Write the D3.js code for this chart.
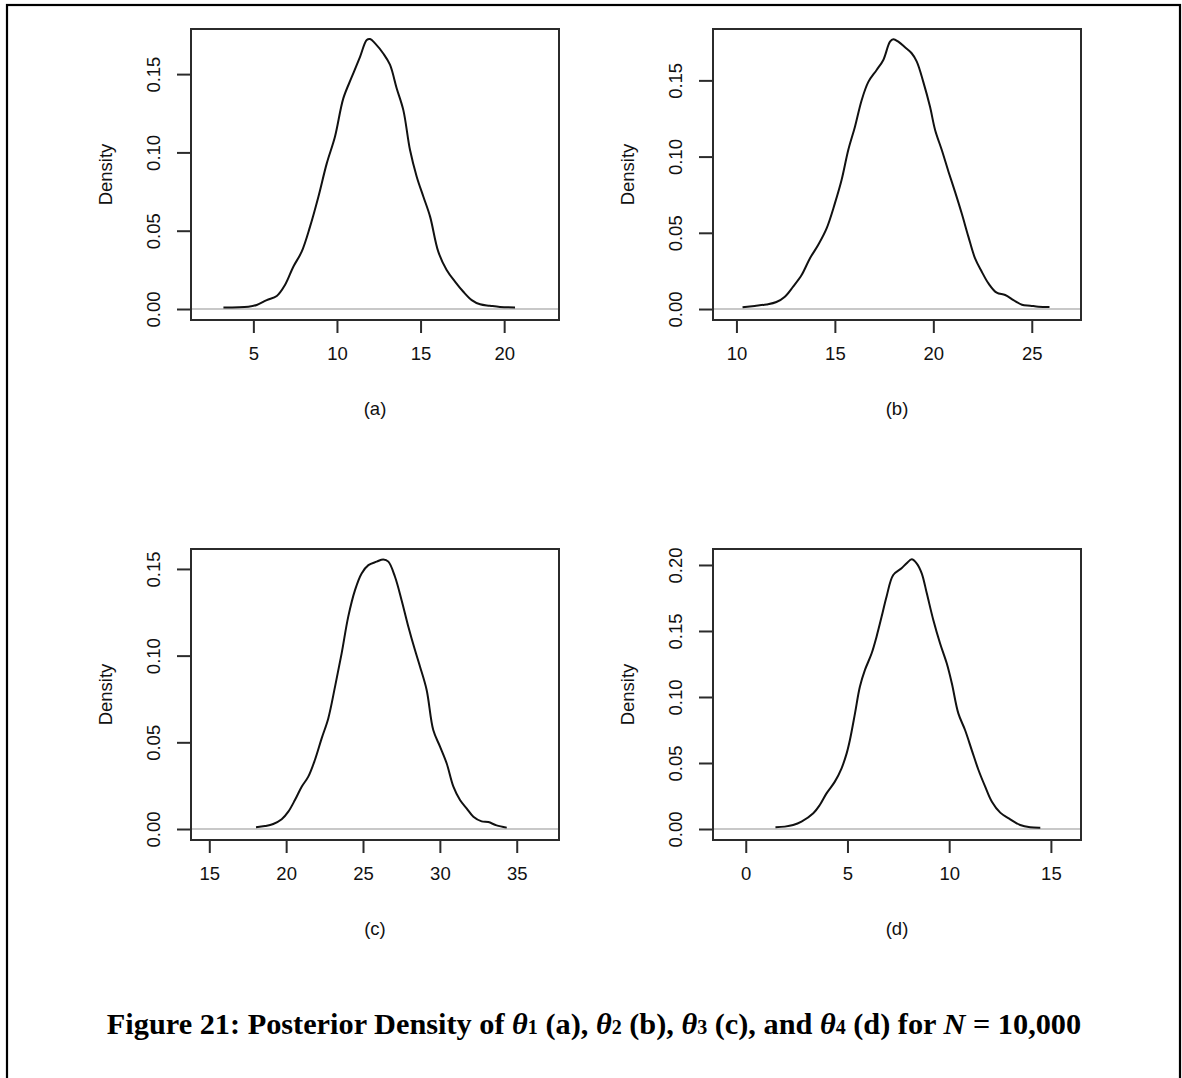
<!DOCTYPE html>
<html>
<head>
<meta charset="utf-8">
<script src="https://cdn.jsdelivr.net/npm/d3@7"></script>
<style>
  html, body { margin: 0; padding: 0; background: #fff; }
  svg { display: block; }
</style>
</head>
<body>
<svg id="chart" width="1182" height="1078"></svg>
<script>
// ---------- DATA ----------
const panelLabels = ["(a)", "(b)", "(c)", "(d)"];

// Panel (a): posterior density of theta1
const xA = [3.21, 4.70, 5.2, 5.8, 6.4, 6.89, 7.39, 7.89, 8.39, 8.89, 9.39, 9.88, 10.38, 10.88, 11.38, 11.78, 11.98, 12.28, 12.78, 13.17, 13.57, 13.97, 14.37, 14.77, 15.17, 15.57, 16.06, 16.56, 17.06, 17.56, 18.06, 18.56, 19.15, 19.75, 20.65];
const yA = [0.001, 0.0015, 0.0026, 0.0057, 0.0083, 0.0153, 0.027, 0.0366, 0.0526, 0.0717, 0.093, 0.110, 0.1345, 0.148, 0.161, 0.1718, 0.1724, 0.1696, 0.163, 0.156, 0.141, 0.127, 0.1015, 0.0845, 0.0717, 0.059, 0.0366, 0.0249, 0.0175, 0.011, 0.0057, 0.003, 0.0021, 0.0013, 0.001];

// Panel (b): theta2
const xB = [10.31, 10.93, 11.53, 12.03, 12.46, 12.88, 13.31, 13.73, 14.15, 14.58, 15.0, 15.34, 15.68, 16.02, 16.36, 16.70, 17.12, 17.46, 17.80, 17.97, 18.22, 18.56, 18.90, 19.16, 19.49, 19.83, 20.09, 20.43, 20.77, 21.1, 21.44, 21.78, 22.12, 22.46, 22.80, 23.22, 23.65, 24.07, 24.5, 24.92, 25.34, 25.9];
const yB = [0.0011, 0.002, 0.003, 0.0046, 0.0081, 0.0147, 0.0223, 0.0332, 0.042, 0.0529, 0.0693, 0.0846, 0.1043, 0.1196, 0.137, 0.149, 0.1568, 0.1634, 0.1754, 0.177, 0.1754, 0.1717, 0.1678, 0.1623, 0.149, 0.1328, 0.1175, 0.1043, 0.0901, 0.077, 0.0628, 0.0475, 0.0332, 0.0245, 0.0168, 0.0107, 0.0092, 0.0059, 0.0028, 0.0022, 0.0015, 0.0013];

// Panel (c): theta3
const xC = [18.04, 18.62, 19.16, 19.71, 20.14, 20.57, 21.01, 21.44, 21.87, 22.31, 22.74, 23.18, 23.61, 24.04, 24.48, 24.91, 25.35, 25.89, 26.32, 26.65, 27.08, 27.51, 27.95, 28.38, 28.71, 29.14, 29.57, 30.01, 30.44, 30.88, 31.31, 31.74, 32.18, 32.72, 33.15, 33.69, 34.35];
const yC = [0.001, 0.0017, 0.0029, 0.0056, 0.01, 0.0167, 0.0244, 0.0302, 0.0398, 0.0523, 0.0638, 0.0821, 0.1013, 0.1225, 0.1378, 0.1474, 0.1522, 0.1542, 0.1555, 0.1542, 0.1455, 0.132, 0.1167, 0.1032, 0.0936, 0.0802, 0.0571, 0.0475, 0.0379, 0.0244, 0.0167, 0.0119, 0.0071, 0.0044, 0.004, 0.0021, 0.0008];

// Panel (d): theta4
const xD = [1.46, 1.92, 2.33, 2.74, 3.32, 3.64, 3.97, 4.38, 4.71, 4.96, 5.12, 5.37, 5.61, 5.86, 6.19, 6.43, 6.68, 6.92, 7.25, 7.66, 7.91, 8.16, 8.40, 8.65, 8.90, 9.22, 9.55, 9.88, 10.13, 10.45, 10.78, 11.11, 11.44, 11.77, 12.1, 12.51, 13.0, 13.49, 13.98, 14.48];
const yD = [0.0013, 0.0018, 0.003, 0.0056, 0.0119, 0.0182, 0.027, 0.0359, 0.046, 0.0573, 0.0674, 0.0876, 0.1078, 0.1205, 0.1331, 0.1457, 0.1609, 0.176, 0.1924, 0.1975, 0.2013, 0.2043, 0.2013, 0.1937, 0.1785, 0.1583, 0.1407, 0.1255, 0.1104, 0.0876, 0.075, 0.0598, 0.0447, 0.0321, 0.0207, 0.0124, 0.0073, 0.003, 0.0013, 0.001];

// Axis limits (R-style, 4% extended)
const xLimA = [1.27, 23.28], yLimA = [-0.00702, 0.1788];
const xLimB = [8.81, 27.5],  yLimB = [-0.0072, 0.1837];
const xLimC = [13.81, 37.75], yLimC = [-0.00634, 0.1615];
const xLimD = [-1.61, 16.48], yLimD = [-0.00833, 0.2121];

// Tick values
const xTicksA = [5, 10, 15, 20];
const xTicksB = [10, 15, 20, 25];
const xTicksC = [15, 20, 25, 30, 35];
const xTicksD = [0, 5, 10, 15];
const yTicksA = [0, 0.05, 0.10, 0.15];
const yTicksB = [0, 0.05, 0.10, 0.15];
const yTicksC = [0, 0.05, 0.10, 0.15];
const yTicksD = [0, 0.05, 0.10, 0.15, 0.20];

const yAxisTitle = "Density";

// ---------- DRAW ----------
const svg = d3.select("#chart");

// outer frame
svg.append("rect")
  .attr("x", 7).attr("y", 5)
  .attr("width", 1173).attr("height", 1100)
  .attr("fill", "none").attr("stroke", "#000").attr("stroke-width", 2.2);

const panels = [
  { xs: xA, ys: yA, xl: xLimA, yl: yLimA, xt: xTicksA, yt: yTicksA, lab: panelLabels[0], left: 191, top: 29 },
  { xs: xB, ys: yB, xl: xLimB, yl: yLimB, xt: xTicksB, yt: yTicksB, lab: panelLabels[1], left: 713, top: 29 },
  { xs: xC, ys: yC, xl: xLimC, yl: yLimC, xt: xTicksC, yt: yTicksC, lab: panelLabels[2], left: 191, top: 549 },
  { xs: xD, ys: yD, xl: xLimD, yl: yLimD, xt: xTicksD, yt: yTicksD, lab: panelLabels[3], left: 713, top: 549 }
];
const W = 368, H = 291;
const font = "'Liberation Sans', Arial, sans-serif";
const fs = 18.5;
const txtCol = "#111";

panels.forEach(p => {
  const g = svg.append("g").attr("transform", `translate(${p.left},${p.top})`);
  const x = d3.scaleLinear().domain(p.xl).range([0, W]);
  const y = d3.scaleLinear().domain(p.yl).range([H, 0]);

  // zero line
  g.append("line")
    .attr("x1", 0).attr("x2", W)
    .attr("y1", y(0)).attr("y2", y(0))
    .attr("stroke", "#c8c8c8").attr("stroke-width", 2);

  // curve
  const pts = p.xs.map((v, i) => [v, p.ys[i]]);
  g.append("path")
    .datum(pts)
    .attr("d", d3.line().x(d => x(d[0])).y(d => y(d[1])).curve(d3.curveCatmullRom.alpha(0.5)))
    .attr("fill", "none").attr("stroke", "#111").attr("stroke-width", 2)
    .attr("stroke-linejoin", "round");

  // box
  g.append("rect")
    .attr("x", 0).attr("y", 0).attr("width", W).attr("height", H)
    .attr("fill", "none").attr("stroke", "#2b2b2b").attr("stroke-width", 2);

  // x axis
  const xAxis = d3.axisBottom(x).tickValues(p.xt).tickSize(13).tickSizeOuter(0).tickPadding(14)
    .tickFormat(d3.format("d"));
  const gx = g.append("g").attr("transform", `translate(0,${H})`).call(xAxis);
  gx.select(".domain").remove();
  gx.selectAll(".tick line").attr("stroke", "#2b2b2b").attr("stroke-width", 2);
  gx.selectAll(".tick text").attr("font-family", font).attr("font-size", fs).attr("fill", txtCol);

  // y axis
  const yAxis = d3.axisLeft(y).tickValues(p.yt).tickSize(14).tickSizeOuter(0)
    .tickFormat(d3.format(".2f"));
  const gy = g.append("g").call(yAxis);
  gy.select(".domain").remove();
  gy.selectAll(".tick line").attr("stroke", "#2b2b2b").attr("stroke-width", 2);
  gy.selectAll(".tick text")
    .attr("font-family", font).attr("font-size", fs).attr("fill", txtCol)
    .attr("x", null).attr("dy", null)
    .attr("text-anchor", "middle")
    .attr("dominant-baseline", "central")
    .attr("transform", "translate(-38,0) rotate(-90)");

  // y title
  g.append("text")
    .attr("transform", `translate(-86,${H / 2}) rotate(-90)`)
    .attr("text-anchor", "middle").attr("dominant-baseline", "central")
    .attr("font-family", font).attr("font-size", fs).attr("fill", txtCol)
    .text(yAxisTitle);

  // panel label
  g.append("text")
    .attr("x", W / 2).attr("y", H + 88)
    .attr("text-anchor", "middle").attr("dominant-baseline", "central")
    .attr("font-family", font).attr("font-size", fs).attr("fill", txtCol)
    .text(p.lab);
});

// caption
const cap = svg.append("text")
  .attr("x", 594).attr("y", 1034)
  .attr("text-anchor", "middle")
  .attr("font-family", "'Liberation Serif', 'Times New Roman', serif")
  .attr("font-weight", "bold").attr("font-size", 30.3).attr("fill", "#000");
const parts = [
  ["Figure 21: Posterior Density of ", "n"],
  ["θ", "i"], ["1", "s"], [" (a), ", "n"],
  ["θ", "i"], ["2", "s"], [" (b), ", "n"],
  ["θ", "i"], ["3", "s"], [" (c), and ", "n"],
  ["θ", "i"], ["4", "s"], [" (d) for ", "n"],
  ["N", "i"], [" = 10,000", "n"]
];
parts.forEach(([t, k]) => {
  const ts = cap.append("tspan").text(t);
  if (k === "i") ts.attr("font-style", "italic");
  if (k === "s") ts.attr("font-size", 20);
});
</script>
</body>
</html>
